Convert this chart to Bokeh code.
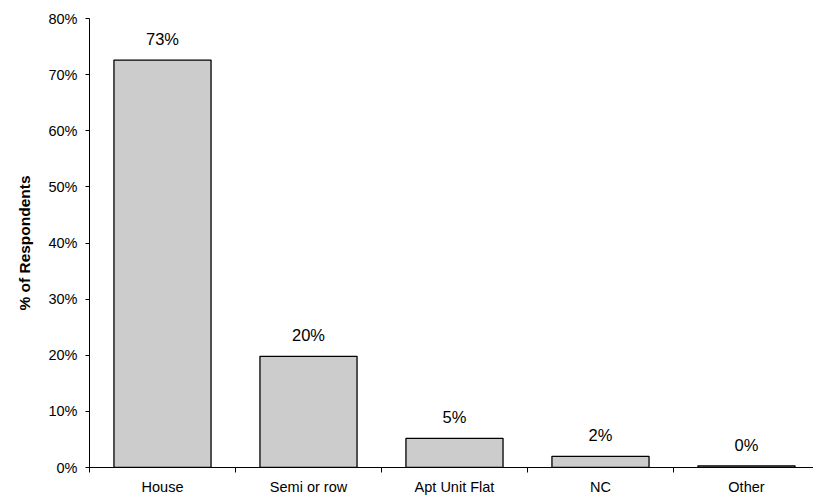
from bokeh.plotting import figure
from bokeh.models import Range1d, FixedTicker, NumeralTickFormatter, ColumnDataSource
from bokeh.core.properties import value
from bokeh.embed import file_html
from bokeh.resources import INLINE

categories = ["House", "Semi or row", "Apt Unit Flat", "NC", "Other"]
percent = [72.6, 19.8, 5.2, 2.0, 0.3]
bar_labels = ["73%", "20%", "5%", "2%", "0%"]
y_ticks = [0, 10, 20, 30, 40, 50, 60, 70, 80]

xs = [i + 0.5 for i in range(len(categories))]
fracs = [v / 100 for v in percent]
src = ColumnDataSource(dict(x=xs, top=fracs, lab=bar_labels))

p = figure(width=813, height=497, output_backend="svg", toolbar_location=None,
           x_range=Range1d(0, 4.959), y_range=Range1d(0, 0.8),
           min_border_left=89, min_border_right=0, min_border_top=18, min_border_bottom=0)
p.outline_line_color = None
p.xgrid.visible = False
p.ygrid.visible = False
p.background_fill_color = "white"
p.border_fill_color = "white"

p.vbar(x="x", top="top", width=0.665, bottom=0, source=src,
       fill_color="#cccccc", line_color="black", line_width=1.3)
p.text(x="x", y="top", text="lab", source=src, text_align="center",
       text_baseline="alphabetic", y_offset=-21,
       text_font=value("Liberation Sans"), text_font_size="16.5px", text_color="black")

ya = p.yaxis[0]
ya.ticker = FixedTicker(ticks=[t / 100 for t in y_ticks], minor_ticks=[])
ya.formatter = NumeralTickFormatter(format="0%")
ya.major_tick_out = 4
ya.major_tick_in = 0
ya.major_label_standoff = 8
ya.axis_line_color = "black"
ya.major_tick_line_color = "black"
ya.major_label_text_font = "Liberation Sans"
ya.major_label_text_font_size = "14.5px"
ya.major_label_text_color = "black"
ya.axis_label = "% of Respondents"
ya.axis_label_text_font = "Liberation Sans"
ya.axis_label_text_font_style = "bold"
ya.axis_label_text_font_size = "15.5px"
ya.axis_label_text_color = "black"
ya.axis_label_standoff = 12

xa = p.xaxis[0]
xa.ticker = FixedTicker(ticks=xs, minor_ticks=list(range(len(categories) + 1)))
xa.major_label_overrides = {x: c for x, c in zip(xs, categories)}
xa.major_tick_out = 0
xa.major_tick_in = 0
xa.minor_tick_out = 5
xa.minor_tick_in = 0
xa.minor_tick_line_color = "black"
xa.major_label_standoff = 6
xa.major_label_text_font = "Liberation Sans"
xa.major_label_text_font_size = "14.5px"
xa.major_label_text_color = "black"
xa.axis_line_color = "black"

open("out.html", "w").write(file_html(p, INLINE))
